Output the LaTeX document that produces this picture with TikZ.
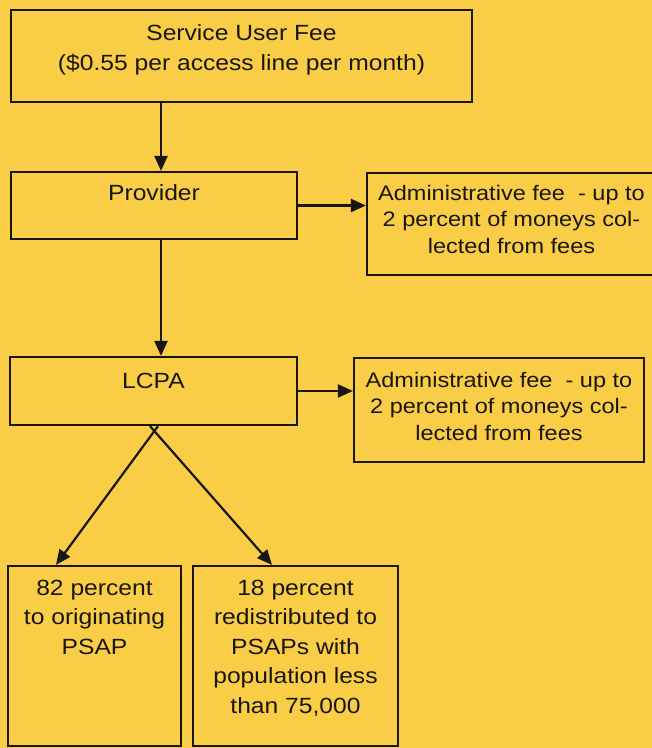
\documentclass[tikz,border=0pt]{standalone}
\usepackage{fontspec}
\setmainfont{Liberation Sans}[FakeStretch=1.12]
\usepackage{tikz}
\usetikzlibrary{positioning, arrows.meta}
\definecolor{paper}{RGB}{249,205,70}
\definecolor{ink}{RGB}{25,22,18}

\begin{document}
\begin{tikzpicture}[x=1pt, y=-1pt, line width=2.2pt]
	\tikzstyle{box}=[rectangle, draw=ink, inner sep=0pt]
	\tikzstyle{lbl}=[inner sep=0pt, align=center, text=ink, font=\fontsize{22}{27}\selectfont]
	\tikzstyle{lbltall}=[lbl, font=\fontsize{22}{29.5}\selectfont]
	\tikzstyle{lblfee}=[lbl, font=\fontsize{21}{26.5}\selectfont]
	\tikzstyle{flow}=[draw=ink, -{Triangle[length=15pt, width=13pt]}]
	\useasboundingbox (0,0) rectangle (652,748);
	\fill[paper] (0,0) rectangle (652,748);
	\clip (0,0) rectangle (652,748);

	\node (fee) at (241.5,56) [box, minimum width=461, minimum height=92]{};
	\node (prov) at (154,205.5) [box, minimum width=286, minimum height=67]{};
	\node (adm1) at (511.5,224) [box, minimum width=289, minimum height=102]{};
	\node (lcpa) at (153.5,391) [box, minimum width=287, minimum height=68]{};
	\node (adm2) at (499,410) [box, minimum width=290, minimum height=104]{};
	\node (p82) at (94.5,656) [box, minimum width=173, minimum height=180]{};
	\node (p18) at (295.5,656) [box, minimum width=205, minimum height=180]{};

	\node (feetxt) [lbltall, below=15pt of fee.north] {Service User Fee\\(\$0.55 per access line per month)};
	\node (provtxt) [lbl, below=13pt of prov.north] {Provider};
	\node (adm1txt) [lblfee, below=12pt of adm1.north] {Administrative fee \ - up to\\2 percent of moneys col-\\lected from fees};
	\node (lcpatxt) [lbl, below=16pt of lcpa.north] {LCPA};
	\node (adm2txt) [lblfee, below=14pt of adm2.north] {Administrative fee \ - up to\\2 percent of moneys col-\\lected from fees};
	\node (p82txt) [lbltall, below=14pt of p82.north] {82 percent\\to originating\\PSAP};
	\node (p18txt) [lbltall, below=14pt of p18.north] {18 percent\\redistributed to\\PSAPs with\\population less\\than 75,000};

	\coordinate (spine) at (161,0);
	\coordinate[xshift=4.5pt] (sl) at (lcpa.south);
	\coordinate[xshift=-3.5pt] (sr) at (lcpa.south);

	\draw[flow] (fee.south -| spine) -- (prov.north -| spine);
	\draw[flow] (prov.south -| spine) -- (lcpa.north -| spine);
	\draw[flow] (prov.east) -- (prov.east -| adm1.west);
	\draw[flow] (lcpa.east) -- (lcpa.east -| adm2.west);
	\draw[flow] (sl) -- ([xshift=-38.5pt]p82.north);
	\draw[flow] (sr) -- ([xshift=-23.5pt]p18.north);
\end{tikzpicture}
\end{document}
